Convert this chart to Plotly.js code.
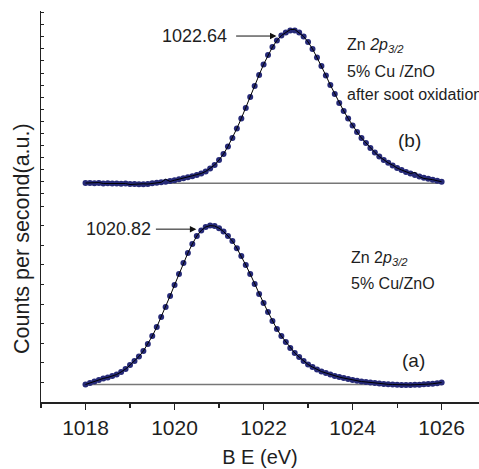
<!DOCTYPE html>
<html>
<head>
<meta charset="utf-8">
<script src="https://cdn.plot.ly/plotly-3.0.1.min.js"></script>
<style>html,body{margin:0;padding:0;background:#fff;}</style>
</head>
<body>
<div id="chart" style="width:479px;height:469px;"></div>
<script>
// Binding energy grid (eV)
const energy = [1018.0,1018.1,1018.2,1018.3,1018.4,1018.5,1018.6,1018.7,1018.8,1018.9,
1019.0,1019.1,1019.2,1019.3,1019.4,1019.5,1019.6,1019.7,1019.8,1019.9,
1020.0,1020.1,1020.2,1020.3,1020.4,1020.5,1020.6,1020.7,1020.8,1020.9,
1021.0,1021.1,1021.2,1021.3,1021.4,1021.5,1021.6,1021.7,1021.8,1021.9,
1022.0,1022.1,1022.2,1022.3,1022.4,1022.5,1022.6,1022.7,1022.8,1022.9,
1023.0,1023.1,1023.2,1023.3,1023.4,1023.5,1023.6,1023.7,1023.8,1023.9,
1024.0,1024.1,1024.2,1024.3,1024.4,1024.5,1024.6,1024.7,1024.8,1024.9,
1025.0,1025.1,1025.2,1025.3,1025.4,1025.5,1025.6,1025.7,1025.8,1025.9,
1026.0];

// (a) 5% Cu/ZnO  (arbitrary units, baseline = 0)
const countsA = [0.00,0.08,0.15,0.23,0.31,0.36,0.43,0.51,0.64,0.79,
0.99,1.20,1.43,1.71,2.07,2.47,2.93,3.44,3.95,4.52,
5.08,5.64,6.20,6.71,7.17,7.58,7.86,8.04,8.11,8.09,
7.98,7.81,7.58,7.32,6.96,6.56,6.10,5.64,5.13,4.62,
4.16,3.70,3.24,2.83,2.47,2.17,1.86,1.61,1.40,1.20,
1.02,0.89,0.77,0.66,0.59,0.51,0.43,0.38,0.33,0.28,
0.23,0.19,0.15,0.13,0.10,0.08,0.05,0.03,0.01,0.00,
-0.01,-0.02,-0.02,-0.02,-0.01,-0.01,0.01,0.02,0.04,0.07,
0.10];

// (b) 5% Cu/ZnO after soot oxidation (arbitrary units, baseline = 0)
const countsB = [0.02,0.02,0.00,0.02,-0.02,0.00,-0.02,-0.02,-0.04,-0.02,
-0.06,-0.06,-0.08,-0.08,-0.06,0.00,0.04,0.08,0.13,0.19,
0.25,0.33,0.41,0.50,0.58,0.69,0.81,0.98,1.22,1.51,
1.93,2.42,3.04,3.74,4.53,5.36,6.22,7.13,8.04,8.95,
9.82,10.60,11.26,11.80,12.21,12.46,12.63,12.63,12.46,12.13,
11.68,11.10,10.40,9.69,8.91,8.12,7.38,6.64,5.98,5.36,
4.78,4.24,3.74,3.33,2.92,2.55,2.21,1.93,1.69,1.47,
1.26,1.10,0.93,0.81,0.69,0.56,0.46,0.38,0.30,0.21,
0.13];

// (b) raw trace (thin black line)
const rawB = [0.02,0.03,0.00,0.06,-0.02,-0.03,-0.02,0.00,-0.04,-0.02,
-0.10,-0.06,-0.08,-0.04,-0.06,0.00,0.04,0.08,0.33,0.15,
0.25,0.33,0.41,0.50,0.62,0.72,0.81,0.98,1.22,1.51,
1.93,2.42,3.04,3.74,4.53,5.36,6.22,7.13,8.04,8.95,
9.82,10.60,11.26,11.80,12.21,12.46,12.70,12.72,12.46,12.13,
11.68,11.10,10.40,9.69,8.91,8.12,7.38,6.64,5.98,5.36,
4.78,4.24,3.74,3.33,2.92,2.55,2.21,1.93,1.69,1.50,
1.26,1.10,0.93,0.81,0.90,0.55,0.40,0.38,0.30,0.21,
0.13];

// Baselines
const baseX = [1018, 1026];
const baseY = [0, 0];

// Peak positions
const peakA = 1020.82;
const peakB = 1022.64;

const dotColor = '#262a78';
const txt = '#1e1e1e';
const FF = 'Liberation Sans, Arial, Helvetica, sans-serif';

const traces = [
  {x: baseX, y: baseY, xaxis:'x', yaxis:'y', mode:'lines', line:{color:'#777', width:1.5}, hoverinfo:'skip'},
  {x: baseX, y: baseY, xaxis:'x', yaxis:'y2', mode:'lines', line:{color:'#777', width:1.5}, hoverinfo:'skip'},
  {x: energy, y: countsA, xaxis:'x', yaxis:'y', mode:'markers', marker:{color:dotColor, size:6}, cliponaxis:false},
  {x: energy, y: countsA, xaxis:'x', yaxis:'y', mode:'lines', line:{color:'#000', width:1}, cliponaxis:false},
  {x: energy, y: countsB, xaxis:'x', yaxis:'y2', mode:'markers', marker:{color:dotColor, size:6}, cliponaxis:false},
  {x: energy, y: rawB, xaxis:'x', yaxis:'y2', mode:'lines', line:{color:'#000', width:1}, cliponaxis:false}
];

function px2paper(py){ return (402 - py) / 391; }

const layout = {
  width: 479, height: 469,
  margin: {l:41, r:0, t:11, b:67, pad:0},
  paper_bgcolor:'#fff', plot_bgcolor:'#fff',
  showlegend:false,
  font:{family:FF, color:txt},
  xaxis: {
    range:[1017, 1026.84], domain:[0,1],
    showgrid:false, zeroline:false,
    showline:true, linecolor:'#222', linewidth:1.5,
    ticks:'outside', ticklen:6, tickwidth:1.2, tickcolor:'#222',
    tick0:1018, dtick:2,
    minor:{dtick:1, ticks:'outside', ticklen:4, tickwidth:1.2, tickcolor:'#222'},
    tickfont:{size:21, family:FF, color:txt},
    title:{text:'B E (eV)', font:{size:20, family:FF, color:txt}, standoff:12},
    anchor:'y'
  },
  xaxis2: {
    range:[1017, 1026.84], overlaying:'x', side:'top', anchor:'free', position:1,
    showgrid:false, zeroline:false,
    showline:true, linecolor:'#222', linewidth:1.5,
    ticks:'inside', ticklen:3, tickwidth:1, tickcolor:'#222',
    tick0:1018, dtick:1, showticklabels:false
  },
  yaxis: {
    domain:[0, 0.476], range:[-0.893, 8.607],
    showgrid:false, zeroline:false,
    showline:true, linecolor:'#222', linewidth:1.5,
    ticks:'inside', ticklen:3, tickwidth:1, tickcolor:'#222',
    tick0:0.107, dtick:1, showticklabels:false, anchor:'x'
  },
  yaxis2: {
    domain:[0.476, 1], range:[-2.694, 14.24],
    showgrid:false, zeroline:false,
    showline:true, linecolor:'#222', linewidth:1.5,
    ticks:'inside', ticklen:3, tickwidth:1, tickcolor:'#222',
    tick0:0.116, dtick:1, showticklabels:false, anchor:'x'
  },
  annotations: [
    {xref:'paper', yref:'paper', x:(22-41)/438, y:px2paper(239), text:'Counts per second(a.u.)',
     textangle:-90, showarrow:false, xanchor:'center', yanchor:'middle', font:{size:21.5, family:FF, color:txt}},
    {xref:'x', yref:'y2', x:1022.29, y:12.17, axref:'x', ayref:'y2', ax:1020.44, ay:12.17,
     text:String(peakB.toFixed(2)), showarrow:true, arrowhead:2, arrowsize:1.3, arrowwidth:1, arrowcolor:'#111',
     startstandoff:8, font:{size:18, family:FF, color:txt}},
    {xref:'x', yref:'y', x:1020.49, y:7.93, axref:'x', ayref:'y', ax:1018.75, ay:7.93,
     text:String(peakA.toFixed(2)), showarrow:true, arrowhead:2, arrowsize:1.3, arrowwidth:1, arrowcolor:'#111',
     startstandoff:3, font:{size:18, family:FF, color:txt}},
    {xref:'x', yref:'paper', x:1023.82, y:px2paper(45), xanchor:'left', yanchor:'middle', showarrow:false,
     text:'Zn <i>2p</i><sub><i>3/2</i></sub>', font:{size:16, family:FF, color:txt}},
    {xref:'x', yref:'paper', x:1023.82, y:px2paper(71), xanchor:'left', yanchor:'middle', showarrow:false,
     text:'5% Cu /ZnO', font:{size:16, family:FF, color:txt}},
    {xref:'x', yref:'paper', x:1023.82, y:px2paper(94), xanchor:'left', yanchor:'middle', showarrow:false,
     text:'after soot oxidation', font:{size:16, family:FF, color:txt}},
    {xref:'x', yref:'paper', x:1025.28, y:px2paper(141), xanchor:'center', yanchor:'middle', showarrow:false,
     text:'(b)', font:{size:19, family:FF, color:txt}},
    {xref:'x', yref:'paper', x:1023.93, y:px2paper(258), xanchor:'left', yanchor:'middle', showarrow:false,
     text:'Zn 2<i>p</i><sub><i>3/2</i></sub>', font:{size:16, family:FF, color:txt}},
    {xref:'x', yref:'paper', x:1023.93, y:px2paper(283), xanchor:'left', yanchor:'middle', showarrow:false,
     text:'5% Cu/ZnO', font:{size:16, family:FF, color:txt}},
    {xref:'x', yref:'paper', x:1025.36, y:px2paper(360), xanchor:'center', yanchor:'middle', showarrow:false,
     text:'(a)', font:{size:19, family:FF, color:txt}}
  ]
};

Plotly.newPlot('chart', traces, layout, {displayModeBar:false, staticPlot:true});
</script>
</body>
</html>
